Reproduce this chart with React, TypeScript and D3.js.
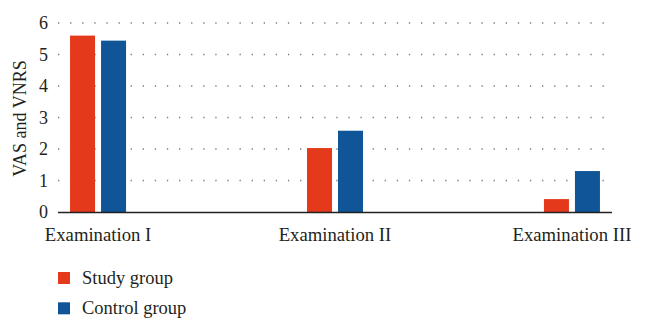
import React from "react";
import * as d3 from "d3";

const categories = ["Examination I", "Examination II", "Examination III"];
const seriesNames = ["Study group", "Control group"];
const studyValues = [5.6, 2.03, 0.41];
const controlValues = [5.44, 2.58, 1.3];
const yTicks = [0, 1, 2, 3, 4, 5, 6];
const colors = ["#E5391C", "#0F5598"];

export default function App() {
  const W = 645, H = 319;
  const left = 58, right = 612, top = 23, bottom = 212;
  const x = d3.scalePoint<string>().domain(categories).range([left, right]).padding(0.169);
  const y = d3.scaleLinear().domain([0, 6]).range([bottom, top]);
  const barW = 25, gap = 6;
  const series = [studyValues, controlValues];
  const textColor = "#231f20";
  const ts = { fontFamily: "Liberation Serif" };
  return (
    <svg width={W} height={H} style={{ position: "absolute", left: 0, top: 0, background: "#fff" }}>
      {yTicks.filter(t => t > 0).map(t => (
        <line key={"g" + t} x1={left} x2={right} y1={y(t)} y2={y(t)} stroke="#7a7a7a" strokeWidth={1.3} strokeDasharray="1.3 10.8" />
      ))}
      {yTicks.map(t => (
        <text key={"t" + t} x={48} y={y(t)} textAnchor="end" dominantBaseline="central" fontSize={18} fill={textColor} style={ts}>{t}</text>
      ))}
      <text transform={`translate(20,${(top + bottom) / 2 + 1}) rotate(-90)`} textAnchor="middle" dominantBaseline="central" fontSize={18} fill={textColor} style={ts}>VAS and VNRS</text>
      {series.map((vals, si) =>
        vals.map((v, ci) => {
          const cx = x(categories[ci])!;
          const x0 = si === 0 ? cx - gap / 2 - barW : cx + gap / 2;
          return <rect key={`b${si}-${ci}`} x={x0} y={y(v)} width={barW} height={y(0) - y(v)} fill={colors[si]} />;
        })
      )}
      <line x1={left} x2={right} y1={bottom + 0.5} y2={bottom + 0.5} stroke="#222" strokeWidth={1.6} />
      {categories.map(c => (
        <text key={c} x={x(c)!} y={240.5} textAnchor="middle" fontSize={18.7} fill={textColor} style={ts}>{c}</text>
      ))}
      {seriesNames.map((s, i) => (
        <g key={s} transform={`translate(58,${272 + i * 30.3})`}>
          <rect x={0} y={0} width={12} height={12} fill={colors[i]} />
          <text x={24} y={6} dominantBaseline="central" fontSize={18.5} fill={textColor} style={ts}>{s}</text>
        </g>
      ))}
    </svg>
  );
}
